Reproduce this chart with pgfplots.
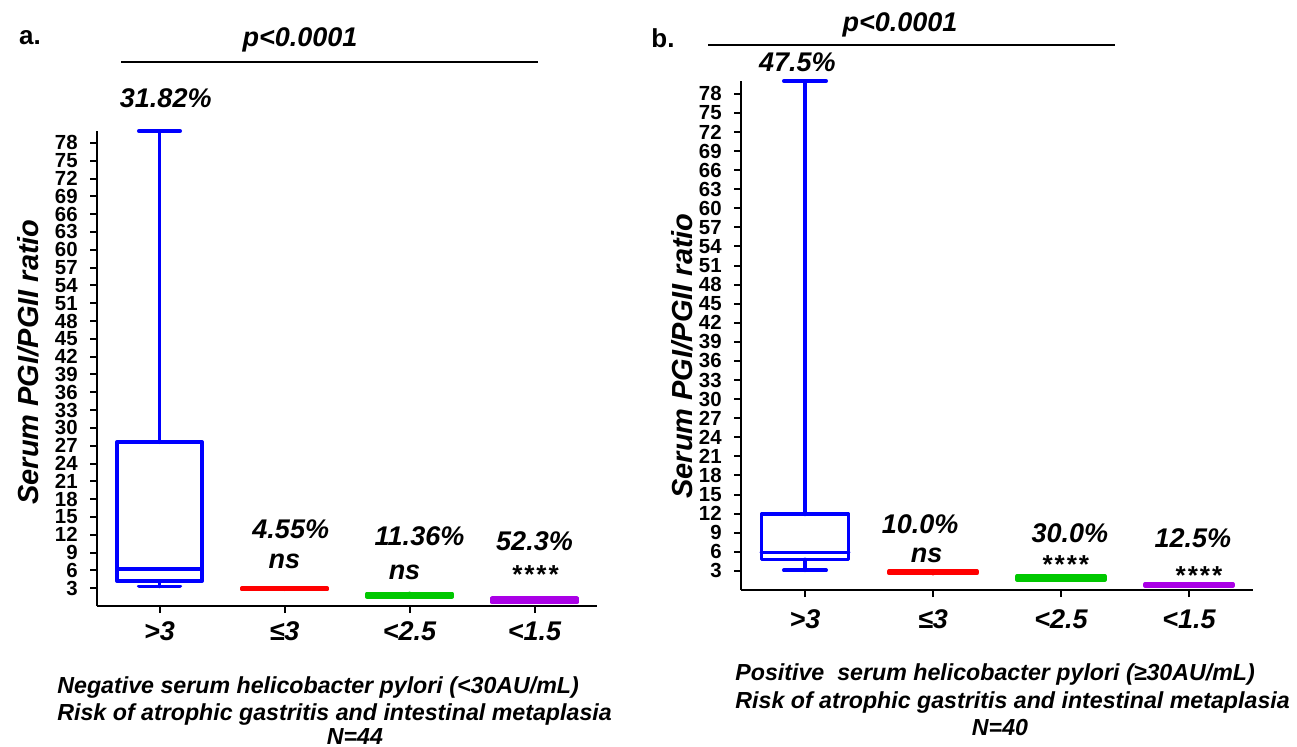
\documentclass[border=0pt]{standalone}
\usepackage{fontspec}
\setmainfont{Liberation Sans}
\usepackage{pgfplots}
\pgfplotsset{compat=1.18}
\usepgfplotslibrary{statistics}
\definecolor{cblue}{RGB}{0,0,255}
\definecolor{cred}{RGB}{255,0,0}
\definecolor{cgreen}{RGB}{0,200,0}
\definecolor{cpurple}{RGB}{170,0,230}
\newcommand{\bi}[1]{\fontsize{#1}{#1}\selectfont\bfseries\itshape}
\newcommand{\stars}{*\kern1pt*\kern1pt*\kern1pt*}
\tikzset{st/.style={font=\bi{13}, yshift=-2.8pt, inner sep=1pt},
  lb/.style={font=\bi{13.5}, inner sep=1pt}}
\begin{document}
\begin{tikzpicture}
\useasboundingbox (0,0) rectangle (648.5pt,-373pt);
\pgfplotsset{
  panel/.style={
    scale only axis, clip=false,
    axis x line*=bottom, axis y line*=left,
    axis line style={line width=1pt},
    xmin=-0.5, xmax=3.5, ymin=0, ymax=80,
    xtick={0,1,2,3}, xticklabels={>3,≤3,<2.5,<1.5},
    ytick={3,6,...,78},
    tick align=outside, major tick length=3.5pt,
    every tick/.style={black, line width=1pt},
    tick label style={font=\fontsize{10.2}{10.2}\selectfont\bfseries},
    /pgf/number format/assume math mode=true,
    xticklabel style={font=\bi{13.5}, anchor=center},
    yticklabel style={inner sep=1.5pt, xshift=-4.5pt},
    boxplot/draw direction=y,
    boxplot/box extend=0.68, boxplot/whisker extend=0.33,
  },
  bx/.style={line width=1.9pt, draw=#1, solid, line join=round, line cap=round, mark=none},
  sm/.style={line width=2pt, draw=#1, fill=#1, solid, line join=round, line cap=round, mark=none},
}
% ---------------- panel a ----------------
\begin{axis}[panel, at={(48.5pt,-303pt)}, anchor=south west, width=250pt, height=237.5pt,
  xticklabel style={yshift=-9pt}]
\addplot[bx=cblue, boxplot prepared={draw position=0, lower whisker=3.3, lower quartile=4.2, median=6.3, upper quartile=27.6, upper whisker=80}] coordinates {};
\addplot[sm=cred, boxplot prepared={draw position=1, lower whisker=2.85, lower quartile=2.85, median=2.92, upper quartile=3.0, upper whisker=3.0}] coordinates {};
\addplot[sm=cgreen, boxplot prepared={draw position=2, lower whisker=1.6, lower quartile=1.6, median=1.85, upper quartile=2.1, upper whisker=2.1}] coordinates {};
\addplot[line width=1.6pt, draw=cpurple, fill=cpurple!40, solid, line join=round, mark=none, boxplot prepared={draw position=3, lower whisker=0.6, lower quartile=0.6, median=1.0, upper quartile=1.4, upper whisker=1.4}] coordinates {};
\node[lb] at (axis cs:0.05,85.5) {31.82\%};
\node[lb] at (axis cs:1.05,13.0) {4.55\%};
\node[lb] at (axis cs:1.0,7.6) {ns};
\node[lb] at (axis cs:2.08,11.7) {11.36\%};
\node[lb] at (axis cs:1.96,5.7) {ns};
\node[lb] at (axis cs:3.0,10.9) {52.3\%};
\node[st] at (axis cs:3.0,6.2) {\stars};
\end{axis}
% ---------------- panel b ----------------
\begin{axis}[panel, at={(370.5pt,-295pt)}, anchor=south west, width=256pt, height=254.5pt,
  xticklabel style={yshift=-11pt}]
\addplot[bx=cblue, boxplot prepared={draw position=0, lower whisker=3.1, lower quartile=4.8, median=5.9, upper quartile=11.9, upper whisker=80}] coordinates {};
\addplot[sm=cred, boxplot prepared={draw position=1, lower whisker=2.6, lower quartile=2.6, median=2.8, upper quartile=3.0, upper whisker=3.0}] coordinates {};
\addplot[sm=cgreen, boxplot prepared={draw position=2, lower whisker=1.65, lower quartile=1.6, median=1.9, upper quartile=2.2, upper whisker=2.15}] coordinates {};
\addplot[sm=cpurple, boxplot prepared={draw position=3, lower whisker=0.7, lower quartile=0.65, median=0.8, upper quartile=0.95, upper whisker=0.9}] coordinates {};
\node[lb] at (axis cs:-0.06,82.9) {47.5\%};
\node[lb] at (axis cs:0.9,10.3) {10.0\%};
\node[lb] at (axis cs:0.95,5.4) {ns};
\node[lb] at (axis cs:2.07,9.0) {30.0\%};
\node[st] at (axis cs:2.03,4.9) {\stars};
\node[lb] at (axis cs:3.03,8.2) {12.5\%};
\node[st] at (axis cs:3.07,3.1) {\stars};
\end{axis}
% ---------------- annotations ----------------
\node[font=\fontsize{13}{13}\selectfont\bfseries] at (15pt,-19pt) {a.};
\node[font=\fontsize{13}{13}\selectfont\bfseries] at (331.5pt,-19pt) {b.};
\node[font=\bi{13.5}] at (150pt,-20pt) {p<0.0001};
\node[font=\bi{13.5}] at (450pt,-12.5pt) {p<0.0001};
\draw[line width=0.75pt] (60.5pt,-31pt) -- (269pt,-31pt);
\draw[line width=0.75pt] (354pt,-22.5pt) -- (557.5pt,-22.5pt);
\node[rotate=90, font=\bi{14.5}] at (14pt,-181pt) {Serum PGI/PGII ratio};
\node[rotate=90, font=\bi{14.5}] at (341pt,-178pt) {Serum PGI/PGII ratio};
\node[anchor=base west, inner sep=0pt, font=\bi{11.6}] at (28.5pt,-346.5pt) {Negative serum helicobacter pylori (<30AU/mL)};
\node[anchor=base west, inner sep=0pt, font=\bi{11.6}] at (28.5pt,-360pt) {Risk of atrophic gastritis and intestinal metaplasia};
\node[anchor=base, inner sep=0pt, font=\bi{11.6}] at (177.5pt,-372pt) {N=44};
\node[anchor=base west, inner sep=0pt, font=\bi{11.6}] at (367.5pt,-340pt) {Positive\ \ serum helicobacter pylori (≥30AU/mL)};
\node[anchor=base west, inner sep=0pt, font=\bi{11.6}] at (367.5pt,-354pt) {Risk of atrophic gastritis and intestinal metaplasia};
\node[anchor=base, inner sep=0pt, font=\bi{11.6}] at (500pt,-367.5pt) {N=40};
\end{tikzpicture}
\end{document}
